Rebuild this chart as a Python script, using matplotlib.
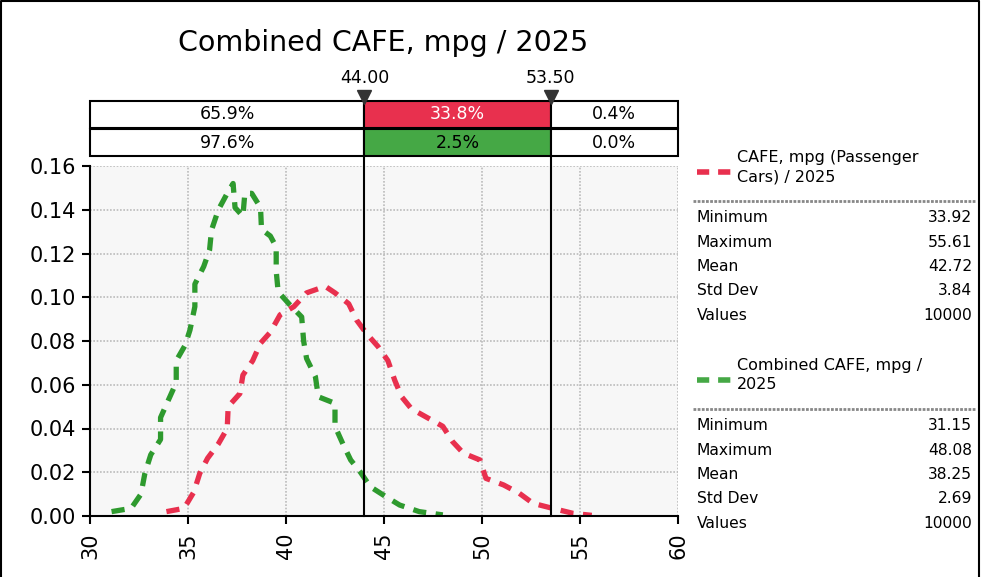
import numpy as np
import matplotlib.pyplot as plt
from matplotlib.lines import Line2D
from matplotlib.patches import Rectangle

# density curves
pass_x = [33.9, 34.8, 35.3, 35.6, 36.0, 36.55, 37.0, 37.05, 37.65, 37.8, 38.3, 38.7, 39.2, 39.7,
          40.4, 41.05, 42.0, 42.5, 43.2, 43.6, 44.1, 44.7, 45.2, 45.55, 45.9, 46.4, 47.2, 48.0,
          48.5, 49.05, 49.9, 50.2, 51.1, 51.9, 52.6, 53.6, 54.65, 55.6]
pass_y = [0.002, 0.0035, 0.011, 0.0195, 0.0264, 0.033, 0.040, 0.050, 0.056, 0.0644, 0.071, 0.079,
          0.084, 0.092, 0.0957, 0.102, 0.105, 0.102, 0.097, 0.0896, 0.0835, 0.0774, 0.071, 0.062,
          0.0545, 0.049, 0.045, 0.041, 0.034, 0.0287, 0.0256, 0.0172, 0.0142, 0.0104, 0.0058,
          0.0035, 0.0012, 0.0003]
comb_x = [31.1, 32.1, 32.6, 32.8, 33.1, 33.6, 33.6, 34.0, 34.4, 34.4, 34.85, 35.1, 35.35, 35.35,
          35.8, 36.1, 36.2, 36.55, 37.0, 37.3, 37.4, 37.8, 37.9, 38.25, 38.7, 38.75, 39.2, 39.5,
          39.5, 39.6, 40.2, 40.8, 40.9, 41.05, 41.5, 41.65, 42.5, 42.5, 42.9, 43.3, 43.8, 44.3,
          45.1, 45.8, 46.8, 48.0]
comb_y = [0.002, 0.0035, 0.010, 0.0195, 0.028, 0.035, 0.045, 0.053, 0.061, 0.071, 0.078, 0.085,
          0.0957, 0.106, 0.114, 0.1216, 0.1307, 0.140, 0.1475, 0.152, 0.141, 0.137, 0.1475, 0.1475,
          0.141, 0.131, 0.128, 0.123, 0.112, 0.1025, 0.0965, 0.091, 0.080, 0.072, 0.0637, 0.0545,
          0.0515, 0.041, 0.033, 0.0256, 0.020, 0.0134, 0.0088, 0.005, 0.002, 0.0005]

markers = [44.0, 53.5]
pass_pct = ["65.9%", "33.8%", "0.4%"]
comb_pct = ["97.6%", "2.5%", "0.0%"]

stat_names = ["Minimum", "Maximum", "Mean", "Std Dev", "Values"]
pass_stats = ["33.92", "55.61", "42.72", "3.84", "10000"]
comb_stats = ["31.15", "48.08", "38.25", "2.69", "10000"]

RED = "#E8304E"
GREEN = "#2E9A2E"
GREEN_CELL = "#45A845"

W, H = 981, 577

def px(x, y):  # pixel position -> figure fraction
    return x / W, 1 - y / H

fig = plt.figure(figsize=(9.81, 5.77), dpi=100)

# main plot
ax = fig.add_axes([90 / W, 1 - 516 / H, 588 / W, 350 / H])
ax.set_facecolor("#F7F7F7")
ax.plot(comb_x, comb_y, color=GREEN, lw=3.8, dashes=(2.5, 1.8))
ax.plot(pass_x, pass_y, color=RED, lw=3.8, dashes=(2.5, 1.8))
ax.set_xlim(30, 60)
ax.set_ylim(0, 0.16)
ax.set_xticks(np.arange(30, 61, 5))
ax.set_yticks(np.arange(0, 0.161, 0.02))
ax.set_yticklabels(["%.2f" % v for v in np.arange(0, 0.161, 0.02)])
ax.tick_params(axis="x", labelrotation=90, labelsize=15, length=6, width=1.5, pad=6)
ax.tick_params(axis="y", labelsize=15, length=6, width=1.5, pad=4)
ax.grid(True, color="#BBBBBB", ls=(0, (1, 1)), lw=1.2)
ax.set_axisbelow(True)
for s in ["top", "right"]:
    ax.spines[s].set_visible(False)
for s in ["left", "bottom"]:
    ax.spines[s].set_linewidth(1.5)
for m in markers:
    ax.axvline(m, ymin=0, ymax=(516 - 97) / 350, color="black", lw=1.5, clip_on=False, zorder=5)

# percentage table above plot
tab = fig.add_axes([90 / W, 1 - 157 / H, 588 / W, 57 / H])
tab.set_xlim(30, 60)
tab.set_ylim(0, 2)
tab.axis("off")
edges = [30] + markers + [60]
for row, (pcts, fill) in enumerate([(pass_pct, RED), (comb_pct, GREEN_CELL)]):
    y0 = 1 - row
    for i in range(3):
        fc = fill if i == 1 else "white"
        tab.add_patch(Rectangle((edges[i], y0 + 0.03), edges[i + 1] - edges[i], 0.94,
                                facecolor=fc, edgecolor="black", lw=1.5, clip_on=False))
        tc = "white" if (i == 1 and row == 0) else "black"
        tab.text((edges[i] + edges[i + 1]) / 2, y0 + 0.5, pcts[i], ha="center", va="center",
                 fontsize=12.5, color=tc)
for m in markers:
    tab.plot([m], [2.1], marker="v", ms=10, color="#333333", clip_on=False, zorder=6)
    tab.text(m, 2.45, "%.2f" % m, ha="center", va="bottom", fontsize=12.5)

fig.text(*px(383, 43), "Combined CAFE, mpg / 2025", ha="center", va="center", fontsize=20.5)

# legend + stats panel on the right
def panel(y_leg, label, color, stats):
    fig.add_artist(Line2D([697 / W, 732 / W], [px(0, y_leg)[1]] * 2, color=color, lw=4,
                          dashes=(2.2, 1.6)))
    fig.text(*px(737, y_leg - 22), label, ha="left", va="top", fontsize=11.5, linespacing=1.35)
    sep = px(0, y_leg + 29)[1]
    fig.add_artist(Line2D([693 / W, 975 / W], [sep, sep], color="#888888", lw=2,
                          ls=(0, (1, 0.5))))
    for k, (name, val) in enumerate(zip(stat_names, stats)):
        yy = y_leg + 46 + k * 24.3
        fig.text(*px(697, yy), name, ha="left", va="center", fontsize=11.2)
        fig.text(*px(972, yy), val, ha="right", va="center", fontsize=11.2)

panel(172, "CAFE, mpg (Passenger\nCars) / 2025", RED, pass_stats)
panel(380, "Combined CAFE, mpg /\n2025", GREEN_CELL, comb_stats)

# outer frame
fig.add_artist(Line2D([0.001, 0.001, 979 / W, 979 / W], [0, 0.998, 0.998, 0], color="black", lw=1.5))

fig.savefig("out.png", dpi=100)
